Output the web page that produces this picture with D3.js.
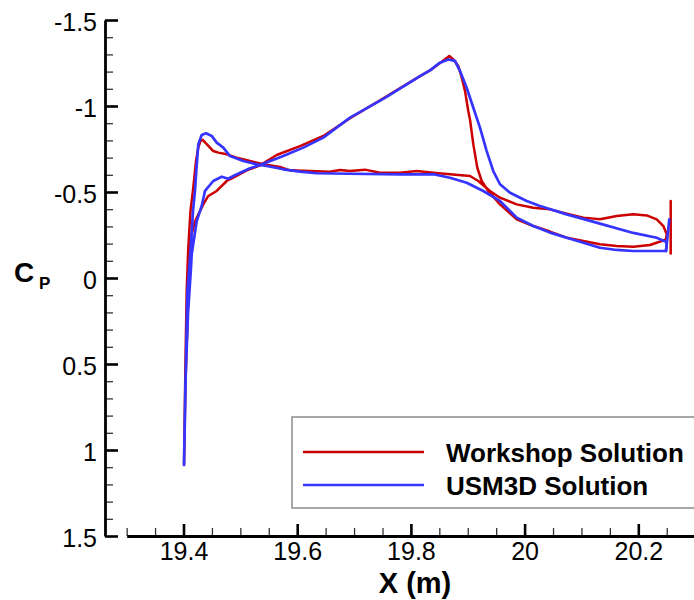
<!DOCTYPE html>
<html>
<head>
<meta charset="utf-8">
<script src="https://cdn.jsdelivr.net/npm/d3@7"></script>
<style>
  body { margin: 0; background: #fff; }
  svg { display: block; font-family: "Liberation Sans", Arial, sans-serif; }
</style>
</head>
<body>
<svg id="chart" width="694" height="600"></svg>
<script>
// Cp along the section, [x (m), Cp], leading edge -> trailing edge
const workshopUpper = [
  [19.4009, 1.087], [19.4035, 0.6], [19.4075, 0.2], [19.4114, -0.215], [19.4202, -0.33],
  [19.4348, -0.428], [19.4436, -0.477], [19.4584, -0.506], [19.476, -0.564], [19.4876, -0.583],
  [19.5112, -0.626], [19.5346, -0.655], [19.5639, -0.715], [19.6049, -0.767], [19.6459, -0.826],
  [19.6929, -0.929], [19.7544, -1.05], [19.816, -1.174], [19.8336, -1.207], [19.8512, -1.25],
  [19.8675, -1.291], [19.8746, -1.271], [19.8834, -1.233], [19.8894, -1.165], [19.8952, -1.087],
  [19.9009, -0.971], [19.904, -0.92], [19.9098, -0.777], [19.9168, -0.641], [19.9245, -0.564],
  [19.9361, -0.506], [19.9567, -0.428], [19.9861, -0.341], [20.0153, -0.302], [20.0447, -0.27],
  [20.0741, -0.234], [20.1033, -0.215], [20.1326, -0.196], [20.162, -0.186], [20.1912, -0.182],
  [20.2206, -0.192], [20.2412, -0.215], [20.2487, -0.225]
];
const workshopLower = [
  [19.4009, 1.087], [19.4035, 0.483], [19.4056, 0.076], [19.4084, -0.176], [19.4123, -0.39],
  [19.4172, -0.525], [19.422, -0.68], [19.426, -0.758], [19.4299, -0.797], [19.4338, -0.803],
  [19.4524, -0.738], [19.4612, -0.729], [19.476, -0.719], [19.4936, -0.70], [19.517, -0.68],
  [19.5404, -0.661], [19.5697, -0.645], [19.5873, -0.626], [19.6225, -0.622], [19.6577, -0.618],
  [19.6753, -0.628], [19.6929, -0.622], [19.7193, -0.630], [19.7456, -0.612], [19.7808, -0.612],
  [19.8102, -0.622], [19.8394, -0.612], [19.8688, -0.603], [19.904, -0.593], [19.9186, -0.564],
  [19.9391, -0.506], [19.9567, -0.467], [19.9861, -0.428], [20.0153, -0.409], [20.0447, -0.399],
  [20.0741, -0.374], [20.1033, -0.351], [20.1326, -0.341], [20.162, -0.36], [20.1912, -0.37],
  [20.2148, -0.364], [20.2324, -0.341], [20.2441, -0.302], [20.25, -0.254], [20.2487, -0.225]
];
const workshopTE = [[20.257, -0.448], [20.257, -0.142]];

const usm3dUpper = [
  [19.4009, 1.087], [19.4035, 0.6], [19.408, 0.2], [19.413, -0.05], [19.4144, -0.138],
  [19.4232, -0.33], [19.432, -0.419], [19.4378, -0.506], [19.4524, -0.564], [19.4672, -0.589],
  [19.4788, -0.577], [19.4876, -0.593], [19.517, -0.638], [19.5346, -0.657], [19.5755, -0.709],
  [19.6107, -0.758], [19.6459, -0.816], [19.6929, -0.932], [19.7544, -1.047], [19.816, -1.174],
  [19.8336, -1.207], [19.8512, -1.252], [19.8658, -1.271], [19.8776, -1.262], [19.8864, -1.203],
  [19.8981, -1.106], [19.9098, -0.99], [19.9215, -0.874], [19.9333, -0.738], [19.9449, -0.622],
  [19.9567, -0.545], [19.9743, -0.496], [20.0037, -0.448], [20.0271, -0.419], [20.0741, -0.370],
  [20.1326, -0.316], [20.1912, -0.262], [20.2324, -0.234], [20.2487, -0.21], [20.25, -0.195]
];
const usm3dLower = [
  [19.4009, 1.087], [19.4044, 0.483], [19.407, 0.076], [19.4127, -0.176], [19.4167, -0.39],
  [19.4202, -0.506], [19.4229, -0.641], [19.426, -0.777], [19.432, -0.831], [19.4396, -0.841],
  [19.4496, -0.826], [19.4584, -0.787], [19.470, -0.758], [19.4818, -0.709], [19.5052, -0.680],
  [19.5288, -0.661], [19.5464, -0.651], [19.5755, -0.632], [19.6049, -0.618], [19.6343, -0.609],
  [19.6929, -0.606], [19.7808, -0.603], [19.8394, -0.603], [19.8688, -0.583], [19.8981, -0.554],
  [19.9273, -0.506], [19.9567, -0.448], [19.9861, -0.351], [20.0153, -0.302], [20.0447, -0.264],
  [20.0741, -0.234], [20.1033, -0.205], [20.1326, -0.176], [20.162, -0.163], [20.1912, -0.157],
  [20.2487, -0.157]
];
const usm3dTE = [[20.2487, -0.157], [20.2545, -0.341]];

const xTicks = [19.4, 19.6, 19.8, 20, 20.2];
const xTickLabels = ["19.4", "19.6", "19.8", "20", "20.2"];
const yTicks = [-1.5, -1, -0.5, 0, 0.5, 1, 1.5];
const yTickLabels = ["-1.5", "-1", "-0.5", "0", "0.5", "1", "1.5"];

const seriesNames = ["Workshop Solution", "USM3D Solution"];
const colors = ["#cc0000", "#3535ff"];

const svg = d3.select("#chart");

const x = d3.scaleLinear().domain([19.3, 20.3]).range([126.65, 695.15]);
const y = d3.scaleLinear().domain([-1.5, 1.5]).range([20, 536]);

// minor ticks
const xMinor = d3.range(19.3, 20.31, 0.05).filter(v => !xTicks.some(t => Math.abs(t - v) < 1e-6));
const yMinor = d3.range(-1.5, 1.51, 0.1).filter(v => !yTicks.some(t => Math.abs(t - v) < 1e-6));

svg.append("g")
  .attr("transform", "translate(0,536)")
  .call(d3.axisBottom(x).tickValues(xMinor).tickSize(-8).tickSizeOuter(0).tickFormat(""))
  .call(g => g.selectAll(".tick line").attr("stroke", "#333").attr("stroke-width", 1.3))
  .call(g => g.select(".domain").remove());

svg.append("g")
  .attr("transform", "translate(105,0)")
  .call(d3.axisLeft(y).tickValues(yMinor).tickSize(-8).tickSizeOuter(0).tickFormat(""))
  .call(g => g.selectAll(".tick line").attr("stroke", "#333").attr("stroke-width", 1.3))
  .call(g => g.select(".domain").remove());

// major ticks + labels
svg.append("g")
  .attr("transform", "translate(0,536)")
  .call(d3.axisBottom(x).tickValues(xTicks).tickSize(-12).tickSizeOuter(0).tickPadding(6)
    .tickFormat((d, i) => xTickLabels[i]))
  .call(g => g.select(".domain").attr("stroke", "#000").attr("stroke-width", 2.8))
  .call(g => g.selectAll(".tick line").attr("stroke", "#000").attr("stroke-width", 2.6))
  .call(g => g.selectAll("text").attr("fill", "#000").attr("font-size", 25)
    .attr("font-family", "Liberation Sans, Arial, sans-serif"));

svg.append("g")
  .attr("transform", "translate(105,0)")
  .call(d3.axisLeft(y).tickValues(yTicks).tickSize(-13).tickSizeOuter(0).tickPadding(8)
    .tickFormat((d, i) => yTickLabels[i]))
  .call(g => g.select(".domain").attr("stroke", "#000").attr("stroke-width", 2.8))
  .call(g => g.selectAll(".tick line").attr("stroke", "#000").attr("stroke-width", 2.6))
  .call(g => g.selectAll("text").attr("fill", "#000").attr("font-size", 25).attr("dy", "0.4em")
    .attr("font-family", "Liberation Sans, Arial, sans-serif"));

// axis titles
svg.append("text")
  .attr("x", 415).attr("y", 593)
  .attr("text-anchor", "middle")
  .attr("font-weight", "bold").attr("font-size", 29)
  .text("X (m)");

svg.append("text")
  .attr("x", 14).attr("y", 282)
  .attr("font-weight", "bold").attr("font-size", 28)
  .text("C");
svg.append("text")
  .attr("x", 39).attr("y", 289)
  .attr("font-weight", "bold").attr("font-size", 17)
  .text("P");

// curves
const line = d3.line().x(d => x(d[0])).y(d => y(d[1]));
const loops = [
  workshopUpper.concat(workshopLower.slice().reverse()),
  usm3dUpper.concat(usm3dLower.slice().reverse())
];
const edges = [workshopTE, usm3dTE];

loops.forEach((pts, i) => {
  const g = svg.append("g")
    .attr("fill", "none")
    .attr("stroke", colors[i])
    .attr("stroke-width", i === 0 ? 2.5 : 2.7)
    .attr("stroke-linejoin", "round")
    .attr("stroke-linecap", "round");
  g.append("path").attr("d", line(pts));
  g.append("path").attr("d", line(edges[i]));
});

// legend
const legend = svg.append("g");
legend.append("rect")
  .attr("x", 292).attr("y", 417).attr("width", 410).attr("height", 91)
  .attr("fill", "#fff").attr("stroke", "#8a8a8a").attr("stroke-width", 1.5);

seriesNames.forEach((name, i) => {
  const ly = 452 + i * 33;
  legend.append("line")
    .attr("x1", 303).attr("x2", 424).attr("y1", ly).attr("y2", ly)
    .attr("stroke", colors[i]).attr("stroke-width", 2.6);
  legend.append("text")
    .attr("x", 446).attr("y", ly + 9.5)
    .attr("font-weight", "bold").attr("font-size", 26)
    .text(name);
});
</script>
</body>
</html>
